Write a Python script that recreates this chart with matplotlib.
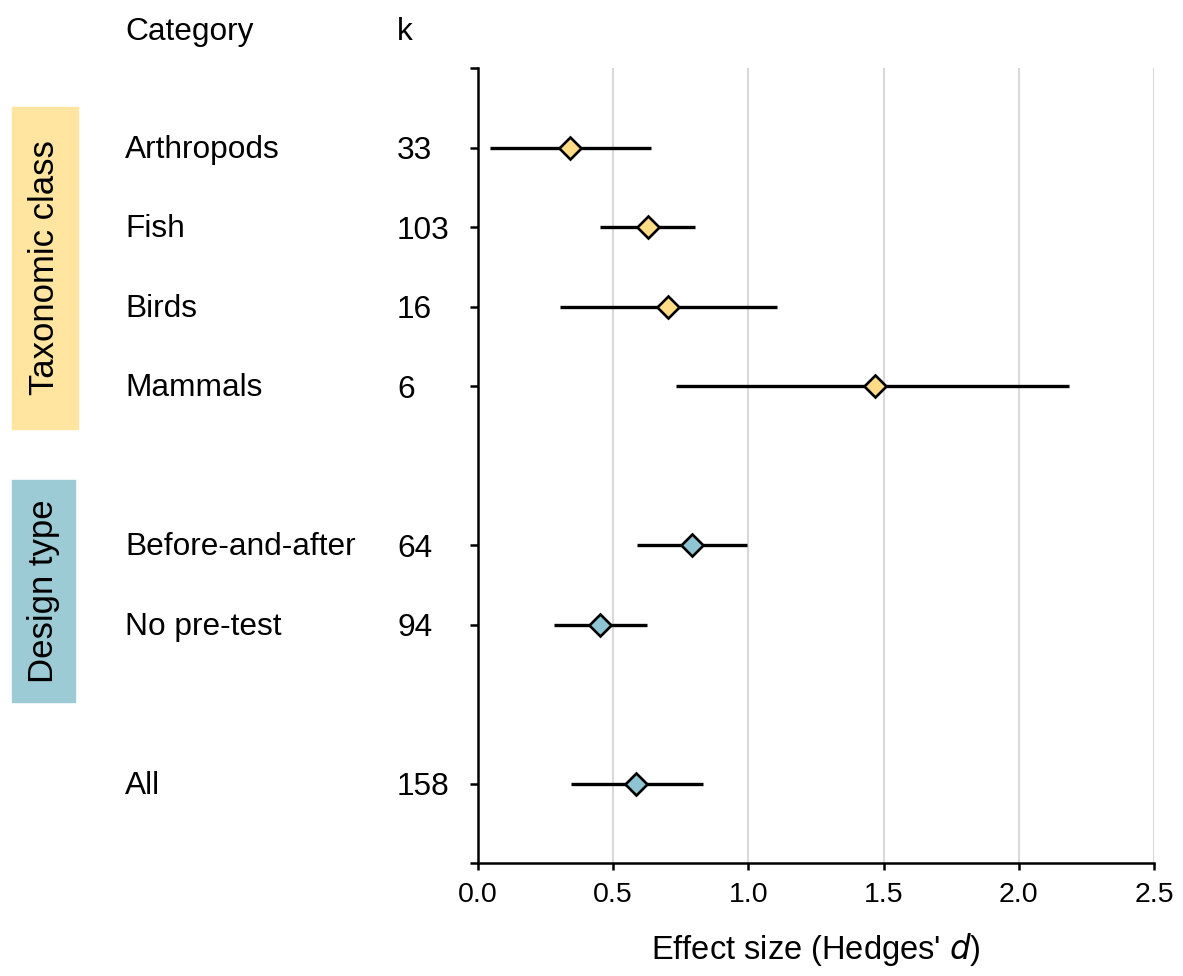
import matplotlib.pyplot as plt
from matplotlib.patches import Rectangle
from matplotlib.transforms import blended_transform_factory
import numpy as np

plt.rcParams['font.family'] = ['Liberation Sans', 'DejaVu Sans']

# data
categories = ['Arthropods', 'Fish', 'Birds', 'Mammals', 'Before-and-after', 'No pre-test', 'All']
k_values = ['33', '103', '16', '6', '64', '94', '158']
rows = [1, 2, 3, 4, 6, 7, 9]
estimate = np.array([0.342, 0.628, 0.701, 1.468, 0.790, 0.452, 0.584])
ci_low = np.array([0.044, 0.452, 0.303, 0.732, 0.588, 0.282, 0.344])
ci_high = np.array([0.640, 0.804, 1.104, 2.186, 0.994, 0.625, 0.831])
group = ['tax', 'tax', 'tax', 'tax', 'design', 'design', 'design']

colors = {'tax': '#FFDC85', 'design': '#8EC5D3'}

W, H = 1183, 976
fig = plt.figure(figsize=(W / 100, H / 100), dpi=100)
ax = fig.add_axes([478 / W, 1 - 863 / H, (1154 - 478) / W, (863 - 68) / H])

ax.errorbar(estimate, rows, xerr=[estimate - ci_low, ci_high - estimate],
            fmt='none', ecolor='black', elinewidth=2.4, capsize=0, zorder=3)
for x, y, g in zip(estimate, rows, group):
    ax.plot(x, y, marker='D', ms=11.5, mfc=colors[g], mec='black', mew=1.9,
            linestyle='none', zorder=4)

ax.set_xlim(0, 2.5)
ax.set_ylim(10, 0)
ax.set_xticks([0, 0.5, 1.0, 1.5, 2.0, 2.5])
ax.set_xticklabels(['0.0', '0.5', '1.0', '1.5', '2.0', '2.5'], fontsize=20.5)
ax.set_yticks([0, 1, 2, 3, 4, 6, 7, 9, 10])
ax.set_yticklabels([])
ax.grid(axis='x', color='#d9d9d9', lw=1.5, zorder=0)
ax.set_axisbelow(True)
for s in ['top', 'right']:
    ax.spines[s].set_visible(False)
for s in ['left', 'bottom']:
    ax.spines[s].set_linewidth(1.8)
ax.tick_params(axis='y', direction='out', length=6, width=1.8)
ax.tick_params(axis='x', direction='out', length=5, width=1.8, pad=9)
ax.set_xlabel("Effect size (Hedges' $\\mathit{d}$)", fontsize=23.5, labelpad=16)

trans = blended_transform_factory(fig.transFigure, ax.transData)
for name, kv, y in zip(categories, k_values, rows):
    ax.text(125 / W, y + 0.03, name, transform=trans, fontsize=22.8, va='center', ha='left')
    ax.text(397 / W, y + 0.05, kv, transform=trans, fontsize=22.8, va='center', ha='left')
ax.text(125 / W, -0.45, 'Category', transform=trans, fontsize=22.8, va='center', ha='left')
ax.text(397 / W, -0.45, 'k', transform=trans, fontsize=22.8, va='center', ha='left')

# group boxes on the left
fig.patches.append(Rectangle((12 / W, 1 - 429 / H), 66 / W, 322 / H,
                             transform=fig.transFigure, color='#FFE59F', zorder=0))
fig.patches.append(Rectangle((12 / W, 1 - 702 / H), 63 / W, 222 / H,
                             transform=fig.transFigure, color='#9CCAD5', zorder=0))
fig.text(45 / W, 1 - 268 / H, 'Taxonomic class', rotation=90, fontsize=25,
         ha='center', va='center')
fig.text(44 / W, 1 - 591 / H, 'Design type', rotation=90, fontsize=25,
         ha='center', va='center')

plt.savefig('out.png', dpi=100)
